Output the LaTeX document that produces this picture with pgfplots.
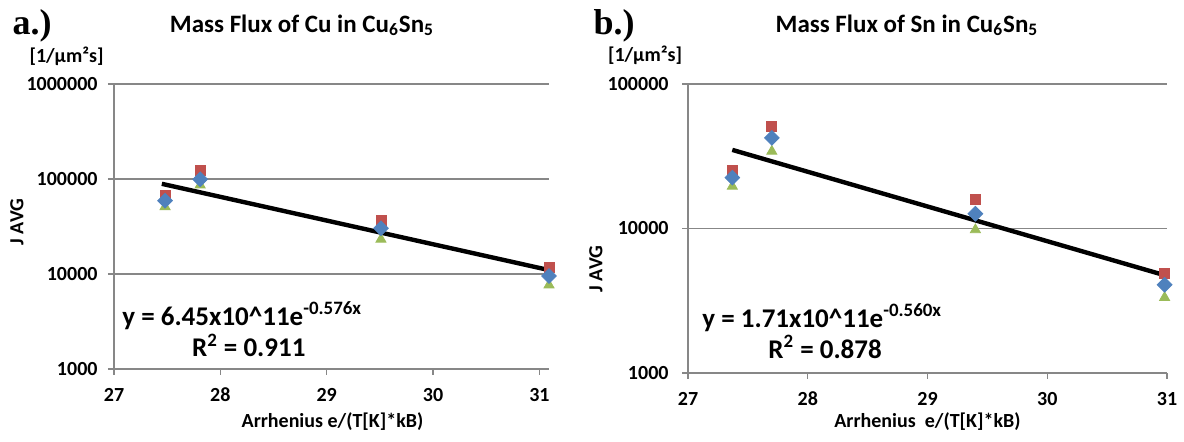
\documentclass[border=0pt]{standalone}
\usepackage{fontspec}
\setmainfont{Carlito}
\newfontfamily\serifb{Liberation Serif}
\usepackage{pgfplots}
\pgfplotsset{compat=1.18}
\definecolor{xblue}{HTML}{4F81BD}
\definecolor{xred}{HTML}{C0504D}
\definecolor{xgreen}{HTML}{9BBB59}
\definecolor{xgrid}{HTML}{878787}
\begin{document}
\begin{tikzpicture}
\path[use as bounding box] (0,0) rectangle (592pt,220.5pt);
% ---------- panel a ----------
\begin{axis}[anchor=south west, at={(57pt,36pt)}, width=217.5pt, height=142.5pt,
  scale only axis, clip=false,
  ymode=log, log basis y=10,
  axis x line*=bottom, axis y line*=left,
  axis line style={xgrid, line width=0.6pt},
  tick style={xgrid, line width=0.6pt},
  major tick length=3pt, tick align=outside,
  ymajorgrids, grid style={xgrid, line width=0.6pt},
  yminorticks=false,
  xtick={27,28,29,30,31},
  xticklabels={\textbf{27},\textbf{28},\textbf{29},\textbf{30},\textbf{31}},
  xticklabel style={font=\fontsize{10}{12}\selectfont\bfseries, yshift=-3pt},
  yticklabel style={font=\fontsize{10}{12}\selectfont\bfseries, xshift=-1.7pt},
  xmin=27, xmax=31.09, ymin=1000, ymax=1000000,
  ytick={1000,10000,100000,1000000},
  yticklabels={\textbf{1000},\textbf{10000},\textbf{100000},\textbf{1000000}}]
\addplot[only marks, mark=square*, mark size=2.5pt, color=xred] coordinates {(27.48,67900) (27.81,122000) (29.51,36400) (31.09,11800)};
\addplot[only marks, mark=triangle*, mark size=2.9pt, color=xgreen] coordinates {(27.48,51100) (27.81,86400) (29.51,23200) (31.09,7660)};
\addplot[only marks, mark=square*, mark size=2.6pt, mark options={rotate=45}, color=xblue] coordinates {(27.48,59100) (27.81,99300) (29.51,30300) (31.09,9530)};
\addplot[black, line width=2.2pt, no marks] coordinates {(27.45,89000) (31.09,11000)};
\end{axis}
% ---------- panel b ----------
\begin{axis}[anchor=south west, at={(344pt,34pt)}, width=239.5pt, height=144.5pt,
  scale only axis, clip=false,
  ymode=log, log basis y=10,
  axis x line*=bottom, axis y line*=left,
  axis line style={xgrid, line width=0.6pt},
  tick style={xgrid, line width=0.6pt},
  major tick length=3pt, tick align=outside,
  ymajorgrids, grid style={xgrid, line width=0.6pt},
  yminorticks=false,
  xtick={27,28,29,30,31},
  xticklabels={\textbf{27},\textbf{28},\textbf{29},\textbf{30},\textbf{31}},
  xticklabel style={font=\fontsize{10}{12}\selectfont\bfseries, yshift=-3pt},
  yticklabel style={font=\fontsize{10}{12}\selectfont\bfseries, xshift=-3.2pt},
  xmin=27, xmax=31, ymin=1000, ymax=100000,
  ytick={1000,10000,100000},
  yticklabels={\textbf{1000},\textbf{10000},\textbf{100000}}]
\addplot[only marks, mark=square*, mark size=2.5pt, color=xred] coordinates {(27.37,25300) (27.70,51100) (29.40,15800) (30.98,4890)};
\addplot[only marks, mark=triangle*, mark size=2.9pt, color=xgreen] coordinates {(27.37,19600) (27.70,34200) (29.40,9800) (30.98,3330)};
\addplot[only marks, mark=square*, mark size=2.6pt, mark options={rotate=45}, color=xblue] coordinates {(27.37,22500) (27.70,42400) (29.40,12650) (30.98,4080)};
\addplot[black, line width=2.2pt, no marks] coordinates {(27.37,35000) (30.98,4750)};
\end{axis}
% ---------- texts ----------
\node[inner sep=0pt, font=\serifb\bfseries\fontsize{18}{20}\selectfont] at (16pt,207.5pt) {a.)};
\node[inner sep=0pt, font=\serifb\bfseries\fontsize{18}{20}\selectfont] at (307pt,207.5pt) {b.)};
\node[inner sep=0pt, anchor=base, font=\bfseries\fontsize{12.5}{14}\selectfont] at (151pt,204.5pt) {Mass Flux of Cu in Cu\textsubscript{6}Sn\textsubscript{5}};
\node[inner sep=0pt, anchor=base, font=\bfseries\fontsize{12.5}{14}\selectfont] at (453.5pt,204.5pt) {Mass Flux of Sn in Cu\textsubscript{6}Sn\textsubscript{5}};
\node[inner sep=0pt, font=\bfseries\fontsize{10}{12}\selectfont] at (33.25pt,192.5pt) {[1/µm²s]};
\node[inner sep=0pt, font=\bfseries\fontsize{10}{12}\selectfont] at (322.5pt,193pt) {[1/µm²s]};
\node[inner sep=0pt, rotate=90, font=\bfseries\fontsize{10}{12}\selectfont] at (8.5pt,109.5pt) {J AVG};
\node[inner sep=0pt, rotate=90, font=\bfseries\fontsize{10}{12}\selectfont] at (298pt,86pt) {J AVG};
\node[inner sep=0pt, font=\bfseries\fontsize{10}{12}\selectfont] at (166.25pt,9.5pt) {Arrhenius e/(T[K]*kB)};
\node[inner sep=0pt, font=\bfseries\fontsize{10}{12}\selectfont] at (463.75pt,9.5pt) {Arrhenius\ \ e/(T[K]*kB)};
\node[inner sep=0pt, anchor=base west, font=\bfseries\fontsize{13.5}{15}\selectfont] at (61pt,58pt) {y = 6.45x10\textasciicircum11e\textsuperscript{-0.576x}};
\node[inner sep=0pt, anchor=base west, font=\bfseries\fontsize{13.5}{15}\selectfont] at (95.85pt,42.15pt) {R\textsuperscript{2} = 0.911};
\node[inner sep=0pt, anchor=base west, font=\bfseries\fontsize{13.5}{15}\selectfont] at (351pt,57pt) {y = 1.71x10\textasciicircum11e\textsuperscript{-0.560x}};
\node[inner sep=0pt, anchor=base west, font=\bfseries\fontsize{13.5}{15}\selectfont] at (384pt,41.35pt) {R\textsuperscript{2} = 0.878};
\end{tikzpicture}
\end{document}
